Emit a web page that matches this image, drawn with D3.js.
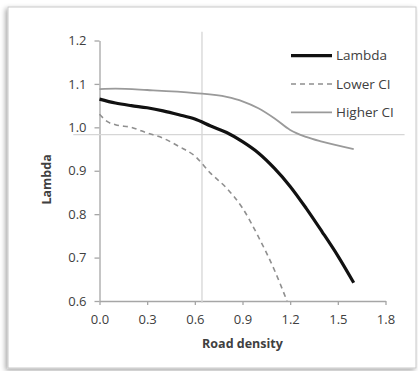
<!DOCTYPE html>
<html>
<head>
<meta charset="utf-8">
<script src="https://cdn.jsdelivr.net/npm/d3@7/dist/d3.min.js"></script>
<style>
  html,body{margin:0;padding:0;background:#fff;}
  svg{display:block;}
  text{font-family:"Open Sans",Arial,sans-serif;fill:#404040;}
</style>
</head>
<body>
<div id="chart"></div>
<script>
// road density (x) and the three series
const lambdaX = [0, 0.1, 0.2, 0.3, 0.4, 0.5, 0.6, 0.7, 0.8, 0.9, 1.0, 1.1, 1.2, 1.3, 1.4, 1.5, 1.6];
const lambdaY = [1.065, 1.056, 1.05, 1.045, 1.038, 1.029, 1.019, 1.003, 0.988, 0.967, 0.941, 0.906, 0.864, 0.814, 0.76, 0.704, 0.642];

const lowerX = [0, 0.05, 0.1, 0.2, 0.3, 0.4, 0.5, 0.6, 0.7, 0.8, 0.9, 1.0, 1.1, 1.18];
const lowerY = [1.03, 1.013, 1.006, 1.0, 0.987, 0.975, 0.956, 0.934, 0.894, 0.86, 0.814, 0.748, 0.672, 0.6];

const higherX = [0, 0.1, 0.3, 0.6, 0.8, 0.9, 1.0, 1.1, 1.2, 1.3, 1.4, 1.6];
const higherY = [1.088, 1.089, 1.086, 1.079, 1.07, 1.06, 1.044, 1.021, 0.994, 0.978, 0.967, 0.95];

const xTicks = [0, 0.3, 0.6, 0.9, 1.2, 1.5, 1.8];
const yTicks = [0.6, 0.7, 0.8, 0.9, 1.0, 1.1, 1.2];

// reference lines drawn over the chart
const refVertical = {x: 0.645, y0: 0.6, y1: 1.22};
const refHorizontal = {y: 0.983, x0: -0.165, x1: 1.92};

const W = 418, H = 371;

const svg = d3.select("#chart").append("svg")
  .attr("width", W).attr("height", H);

const defs = svg.append("defs");
const f = defs.append("filter").attr("id", "shadow")
  .attr("x", "-5%").attr("y", "-5%").attr("width", "110%").attr("height", "110%");
f.append("feDropShadow").attr("dx", -2).attr("dy", 2)
  .attr("stdDeviation", 2.5).attr("flood-color", "#000").attr("flood-opacity", 0.35);

// frame
svg.append("rect")
  .attr("x", 8).attr("y", 7).attr("width", 408).attr("height", 361)
  .attr("fill", "#fff").attr("stroke", "#c9c9c9").attr("stroke-width", 1)
  .attr("filter", "url(#shadow)");

const x = d3.scaleLinear().domain([0, 1.8]).range([99.5, 385.5]);
const y = d3.scaleLinear().domain([0.6, 1.2]).range([301, 40.5]);

// axes
const axisColor = "#a6a6a6";

const gx = svg.append("g").attr("transform", `translate(0,${y(0.6)})`)
  .call(d3.axisBottom(x).tickValues(xTicks).tickFormat(d3.format(".1f")).tickSize(4).tickSizeOuter(0));
gx.select(".domain").attr("stroke", axisColor).attr("stroke-width", 1.3);
gx.selectAll(".tick line").attr("stroke", axisColor).attr("stroke-width", 1.3);
gx.selectAll(".tick text").attr("fill", "#3c3c3c").attr("font-size", 13)
  .attr("font-family", "'Open Sans',Arial,sans-serif").attr("dy", "1.2em");

const gy = svg.append("g").attr("transform", `translate(${x(0)},0)`)
  .call(d3.axisLeft(y).tickValues(yTicks).tickFormat(d3.format(".1f")).tickSize(5).tickSizeOuter(0));
gy.select(".domain").attr("stroke", axisColor).attr("stroke-width", 1.3);
gy.selectAll(".tick line").attr("stroke", axisColor).attr("stroke-width", 1.3);
gy.selectAll(".tick text").attr("fill", "#3c3c3c").attr("font-size", 13)
  .attr("font-family", "'Open Sans',Arial,sans-serif").attr("x", -13);

// reference lines
svg.append("line")
  .attr("x1", x(refVertical.x)).attr("x2", x(refVertical.x))
  .attr("y1", y(refVertical.y1)).attr("y2", y(refVertical.y0) + 2)
  .attr("stroke", "#d6d6d6").attr("stroke-width", 1.3);
svg.append("line")
  .attr("x1", x(refHorizontal.x0)).attr("x2", x(refHorizontal.x1))
  .attr("y1", y(refHorizontal.y)).attr("y2", y(refHorizontal.y))
  .attr("stroke", "#d6d6d6").attr("stroke-width", 1.3);

const line = d3.line()
  .x(d => x(d[0])).y(d => y(d[1]))
  .curve(d3.curveMonotoneX);

const series = [
  {name: "Lambda", xs: lambdaX, ys: lambdaY, color: "#111", width: 3.2, dash: null},
  {name: "Lower CI", xs: lowerX, ys: lowerY, color: "#8f8f8f", width: 1.6, dash: "5,4"},
  {name: "Higher CI", xs: higherX, ys: higherY, color: "#9a9a9a", width: 1.8, dash: null}
];

series.forEach(s => {
  svg.append("path")
    .datum(d3.zip(s.xs, s.ys))
    .attr("d", line)
    .attr("fill", "none")
    .attr("stroke", s.color)
    .attr("stroke-width", s.width)
    .attr("stroke-dasharray", s.dash);
});

// legend
const legend = svg.append("g");
series.forEach((s, i) => {
  const ly = 55.7 + i * 28.3;
  legend.append("line")
    .attr("x1", 291).attr("x2", 332).attr("y1", ly).attr("y2", ly)
    .attr("stroke", s.color).attr("stroke-width", s.width)
    .attr("stroke-dasharray", s.dash);
  legend.append("text")
    .attr("x", 336).attr("y", ly).attr("dy", "0.35em")
    .attr("font-size", 13.5).attr("fill", "#3c3c3c").text(s.name);
});

// axis titles
svg.append("text")
  .attr("x", x(0.9)).attr("y", 348)
  .attr("text-anchor", "middle").attr("font-size", 12.5).attr("font-weight", "bold")
  .attr("fill", "#333").text("Road density");

svg.append("text")
  .attr("transform", `translate(51,${y(0.88)}) rotate(-90)`)
  .attr("text-anchor", "middle").attr("font-size", 12.5).attr("font-weight", "bold")
  .attr("fill", "#333").text("Lambda");
</script>
</body>
</html>
